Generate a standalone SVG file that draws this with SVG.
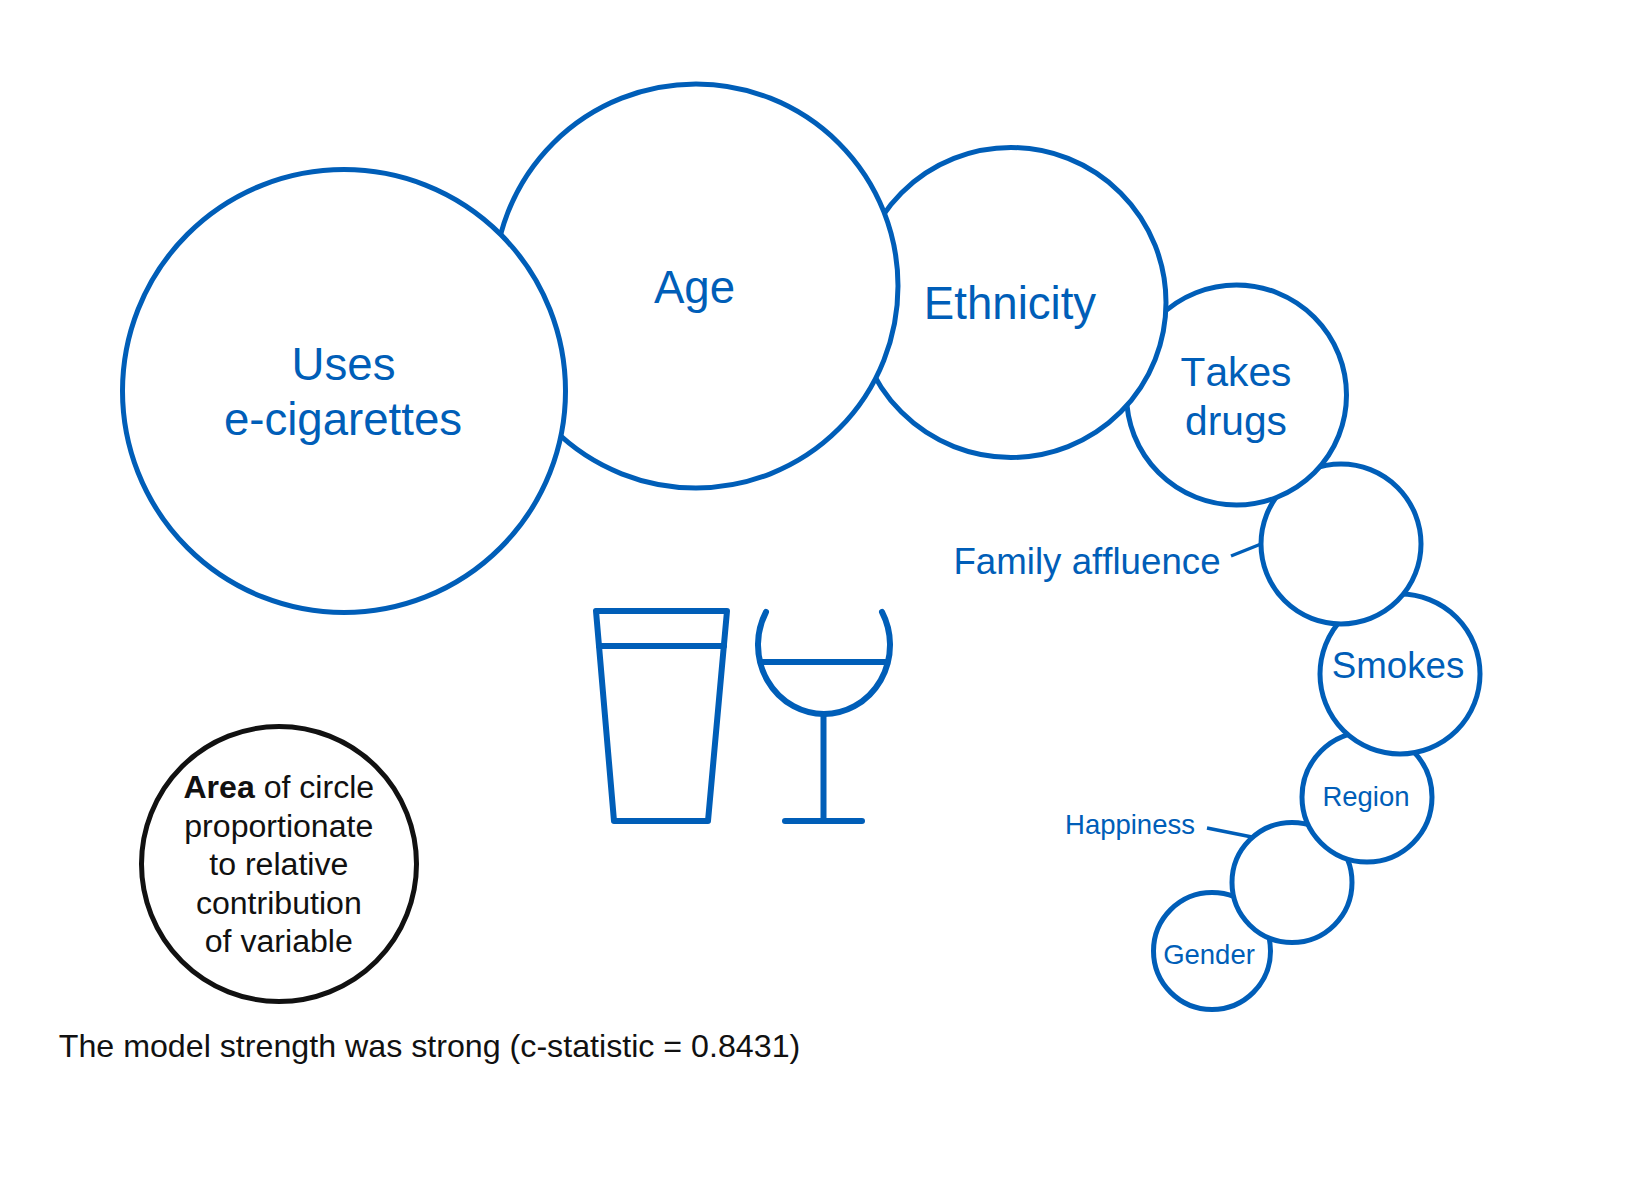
<svg xmlns="http://www.w3.org/2000/svg" width="1636" height="1185" viewBox="0 0 1636 1185">
<style>
text{font-family:"Liberation Sans",Arial,sans-serif;text-anchor:middle;fill:#005EB8;font-kerning:none}
.c{fill:#fff;stroke:#005EB8;stroke-width:5}
.i{fill:none;stroke:#005EB8;stroke-width:6;stroke-linecap:round;stroke-linejoin:round}
.l{fill:none;stroke:#005EB8;stroke-width:3.5}
.k{fill:#111}
.f45{font-size:45.6px}.f40{font-size:40.7px}.f36{font-size:36.7px}.f27{font-size:27.5px}.f32{font-size:32.1px}.f32b{font-size:32.2px}
</style>
<rect width="1636" height="1185" fill="#fff"/>
<g id="connectors">
<line class="l" x1="1231" y1="556" x2="1261" y2="544"/>
<line class="l" x1="1207" y1="828" x2="1252" y2="837"/>
</g>
<g id="node-gender"><circle class="c" cx="1212" cy="951" r="58.5"/><text class="f27" x="1209" y="964">Gender</text></g>
<g id="node-happiness"><circle class="c" cx="1292" cy="882.500" r="60"/></g>
<g id="node-region"><circle class="c" cx="1367" cy="797" r="65"/><text class="f27" x="1366" y="806">Region</text></g>
<g id="node-smokes"><circle class="c" cx="1400" cy="674" r="80"/><text class="f36" x="1398" y="678">Smokes</text></g>
<g id="node-family"><circle class="c" cx="1341" cy="544" r="80"/></g>
<g id="node-takes-drugs"><circle class="c" cx="1236.500" cy="395" r="110"/><text class="f40" x="1236" y="386">Takes</text><text class="f40" x="1236" y="435">drugs</text></g>
<g id="node-ethnicity"><circle class="c" cx="1011" cy="302.500" r="155"/><text class="f45" x="1010" y="319">Ethnicity</text></g>
<g id="node-age"><circle class="c" cx="696" cy="286" r="202"/><text class="f45" x="694.500" y="303">Age</text></g>
<g id="node-uses"><circle class="c" cx="344" cy="391" r="221.500"/><text class="f45" x="343.500" y="380">Uses</text><text class="f45" x="343" y="435">e-cigarettes</text></g>
<text class="f36" x="1087" y="574">Family affluence</text>
<text class="f27" x="1130" y="834">Happiness</text>
<g id="icon-glass" class="i"><path d="M596 611H727L708 821H614Z"/><path d="M599 646H724"/></g>
<g id="icon-wine" class="i"><path d="M766 612A66 69 0 1 0 882 612"/><path d="M761 662H886"/><path d="M823.500 714V821"/><path d="M785 821H862"/></g>
<g id="legend"><circle cx="279" cy="864" r="137.500" fill="#fff" stroke="#111" stroke-width="5"/>
<text class="f32 k" x="278.800" y="798"><tspan font-weight="bold">Area</tspan> of circle</text>
<text class="f32 k" x="278.800" y="837">proportionate</text>
<text class="f32 k" x="278.800" y="875">to relative</text>
<text class="f32 k" x="278.800" y="914">contribution</text>
<text class="f32 k" x="278.800" y="952">of variable</text></g>
<text class="f32b k" x="429.500" y="1057">The model strength was strong (c-statistic = 0.8431)</text>
</svg>
